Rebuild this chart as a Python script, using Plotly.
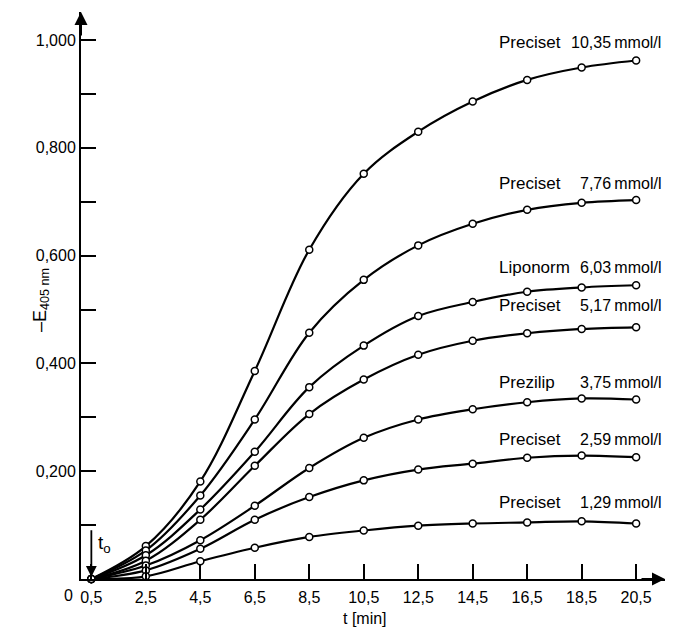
import plotly.graph_objects as go

# ---- data ----
times = [0.5, 2.5, 4.5, 6.5, 8.5, 10.5, 12.5, 14.5, 16.5, 18.5, 20.5]

preciset_1035 = [0.0, 0.061, 0.181, 0.386, 0.611, 0.752, 0.830, 0.886, 0.926, 0.949, 0.962]
preciset_776 = [0.0, 0.053, 0.155, 0.296, 0.457, 0.555, 0.619, 0.659, 0.685, 0.698, 0.703]
liponorm_603 = [0.0, 0.044, 0.129, 0.236, 0.356, 0.433, 0.488, 0.514, 0.533, 0.541, 0.545]
preciset_517 = [0.0, 0.034, 0.110, 0.210, 0.306, 0.370, 0.416, 0.442, 0.456, 0.464, 0.467]
prezilip_375 = [0.0, 0.025, 0.072, 0.136, 0.206, 0.262, 0.296, 0.315, 0.328, 0.335, 0.333]
preciset_259 = [0.0, 0.016, 0.056, 0.110, 0.152, 0.183, 0.203, 0.214, 0.225, 0.229, 0.226]
preciset_129 = [0.0, 0.005, 0.033, 0.058, 0.078, 0.090, 0.099, 0.103, 0.105, 0.107, 0.103]

series_names = ["Preciset", "Preciset", "Liponorm", "Preciset", "Prezilip", "Preciset", "Preciset"]
series_conc = ["10,35\u2009mmol/l", "7,76\u2009mmol/l", "6,03\u2009mmol/l", "5,17\u2009mmol/l",
               "3,75\u2009mmol/l", "2,59\u2009mmol/l", "1,29\u2009mmol/l"]
series_values = [preciset_1035, preciset_776, liponorm_603, preciset_517,
                 prezilip_375, preciset_259, preciset_129]
label_y = [0.996, 0.733, 0.578, 0.507, 0.364, 0.258, 0.142]

x_tickvals = [0.5, 2.5, 4.5, 6.5, 8.5, 10.5, 12.5, 14.5, 16.5, 18.5, 20.5]
x_ticktext = ["0,5", "2,5", "4,5", "6,5", "8,5", "10,5", "12,5", "14,5", "16,5", "18,5", "20,5"]
y_tickvals = [0.1, 0.2, 0.3, 0.4, 0.5, 0.6, 0.7, 0.8, 0.9, 1.0]
y_ticktext = ["", "0,200", "", "0,400", "", "0,600", "", "0,800", "", "1,000"]

FONT = "Liberation Sans, Arial, sans-serif"

fig = go.Figure()
for vals in series_values:
    fig.add_trace(go.Scatter(
        x=times, y=vals, mode="lines+markers",
        line=dict(color="black", width=2.2, shape="spline", smoothing=1.0),
        marker=dict(symbol="circle", size=7, color="white",
                    line=dict(color="black", width=1.5)),
        cliponaxis=False, showlegend=False, hoverinfo="skip"))

XMIN, XMAX = 0.12, 21.56
YMIN, YMAX = 0.0, 1.052

annotations = []
for name, conc, ly in zip(series_names, series_conc, label_y):
    annotations.append(dict(x=15.40, y=ly, xref="x", yref="y", text=name,
                            showarrow=False, xanchor="left", yanchor="middle",
                            font=dict(family=FONT, size=17, color="black")))
    annotations.append(dict(x=21.49, y=ly, xref="x", yref="y", text=conc,
                            showarrow=False, xanchor="right", yanchor="middle",
                            font=dict(family=FONT, size=16, color="black")))

# axis arrowheads
annotations.append(dict(x=XMIN, y=YMAX, xref="x", yref="y", ax=0, ay=25,
                        showarrow=True, arrowhead=2, arrowsize=1.3, arrowwidth=2,
                        arrowcolor="black", text=""))
annotations.append(dict(x=XMAX, y=0, xref="x", yref="y", ax=-25, ay=0,
                        showarrow=True, arrowhead=2, arrowsize=1.3, arrowwidth=2,
                        arrowcolor="black", text=""))
# t0 arrow
annotations.append(dict(x=0.5, y=0.004, xref="x", yref="y", ax=0, ay=-48,
                        showarrow=True, arrowhead=2, arrowsize=1.2, arrowwidth=1.8,
                        arrowcolor="black", text=""))
annotations.append(dict(x=0.5, y=0.065, xref="x", yref="y", xshift=13,
                        text="t<sub>o</sub>", showarrow=False,
                        font=dict(family=FONT, size=19, color="black")))
# "0" origin label
annotations.append(dict(x=XMIN, y=0, xref="x", yref="y", xshift=-13, yshift=-6,
                        text="0", showarrow=False, yanchor="top",
                        font=dict(family=FONT, size=16, color="black")))
# axis titles
annotations.append(dict(x=0.486, xref="paper", y=-0.069, yref="paper",
                        text="t [min]", showarrow=False, yanchor="middle",
                        font=dict(family=FONT, size=16, color="black")))
annotations.append(dict(x=-0.091, xref="paper", y=0.4925, yref="paper",
                        text="–E<sub>405 nm</sub>", showarrow=False, textangle=-90,
                        font=dict(family=FONT, size=18, color="black")))

fig.update_layout(
    width=666, height=621,
    margin=dict(l=73, r=9, t=4, b=49.5),
    paper_bgcolor="white", plot_bgcolor="white",
    font=dict(family=FONT, size=16, color="black"),
    annotations=annotations,
    xaxis=dict(range=[XMIN, XMAX], showgrid=False, zeroline=False,
               showline=True, linecolor="black", linewidth=2,
               tickmode="array", tickvals=x_tickvals, ticktext=x_ticktext,
               ticks="inside", ticklen=15, tickwidth=2, tickcolor="black",
               ticklabelstandoff=3,
               tickfont=dict(family=FONT, size=16, color="black")),
    yaxis=dict(range=[YMIN, YMAX], showgrid=False, zeroline=False,
               showline=True, linecolor="black", linewidth=2,
               tickmode="array", tickvals=y_tickvals, ticktext=y_ticktext,
               ticks="inside", ticklen=15, tickwidth=2, tickcolor="black",
               tickfont=dict(family=FONT, size=16, color="black")),
)

fig.write_html("out.html")
